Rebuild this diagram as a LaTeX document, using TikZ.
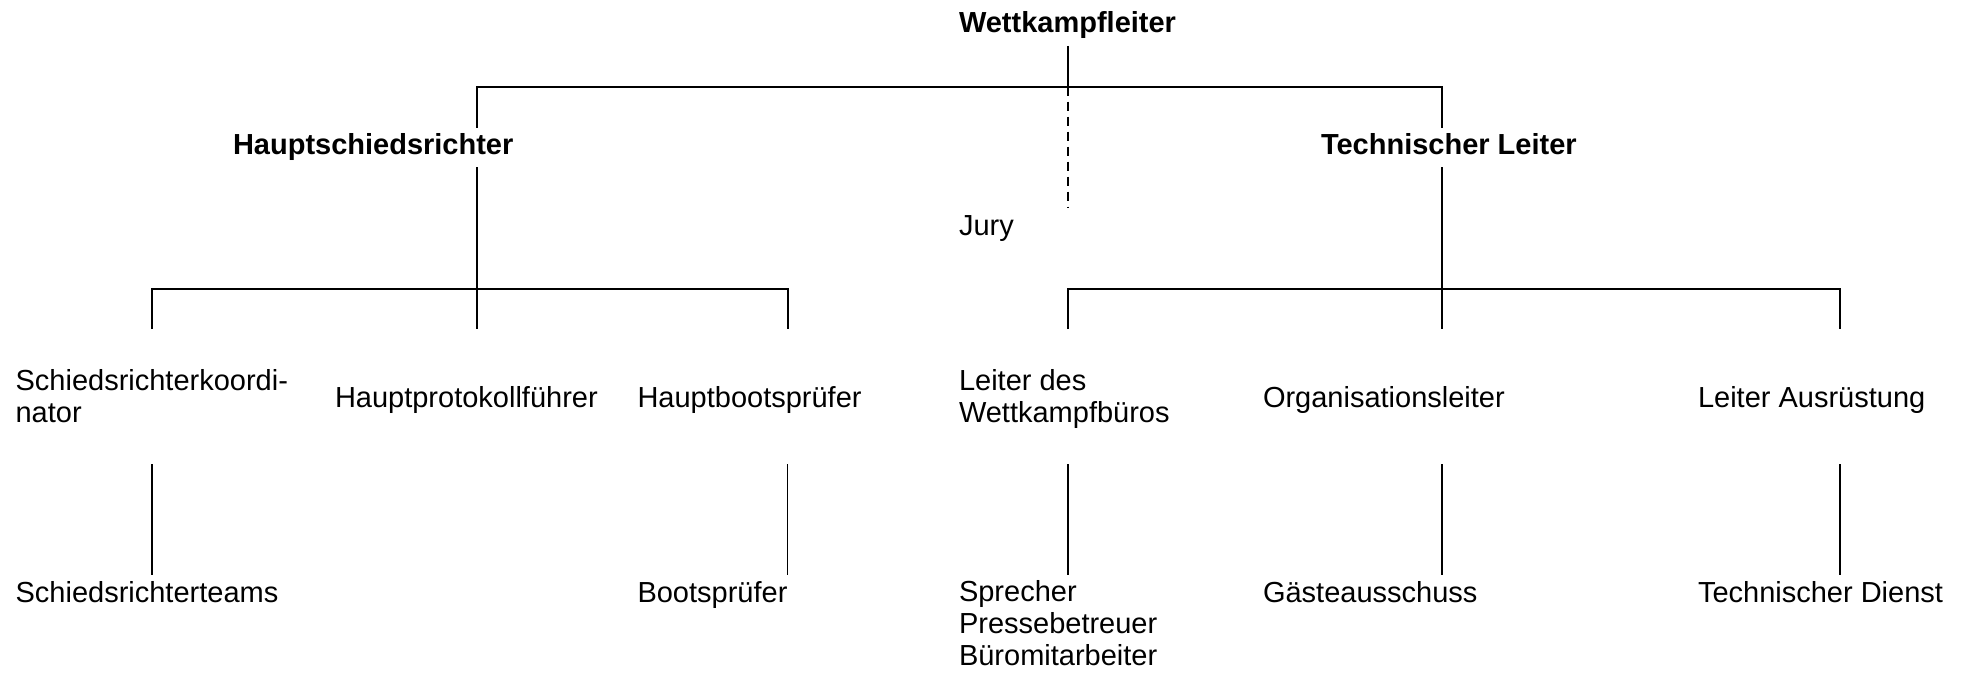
\documentclass[tikz,border=0pt]{standalone}
\usepackage{fontspec}
\setmainfont{Liberation Sans}
\begin{document}
\begin{tikzpicture}[x=0.5pt,y=-0.5pt,
  lbl/.style={anchor=base west,inner sep=0pt,outer sep=0pt,font=\fontsize{14.5}{15.8}\selectfont,align=left},
  blbl/.style={lbl,font=\fontsize{14.5}{15.8}\selectfont\bfseries},
  conn/.style={line width=1pt},
  thin/.style={line width=0.8pt},
  dashconn/.style={line width=0.7pt,dash pattern=on 4.5pt off 3pt}]
\useasboundingbox (0,0) rectangle (1975,674);
% texts (multi-line nodes are anchored at the baseline of their last line)
\node[blbl] (wl) at (959,33) {Wettkampfleiter};
\node[blbl] (hs) at (233,155) {Hauptschiedsrichter};
\node[blbl] (tl) at (1321,155) {Technischer Leiter};
\node[lbl] (jury) at (959,235) {Jury};
\node[lbl] (sk) at (15.6,422) {Schiedsrichterkoordi-\\nator};
\node[lbl] (hp) at (335,407) {Hauptprotokollführer};
\node[lbl] (hb) at (637.5,407) {Hauptbootsprüfer};
\node[lbl] (lw) at (959,422) {Leiter des\\Wettkampfbüros};
\node[lbl] (ol) at (1263,407) {Organisationsleiter};
\node[lbl] (la) at (1698,407) {Leiter Ausrüstung};
\node[lbl] (st) at (15.6,602) {Schiedsrichterteams};
\node[lbl] (bp) at (637.5,602) {Bootsprüfer};
\node[lbl] (sp) at (959,665) {Sprecher\\Pressebetreuer\\Büromitarbeiter};
\node[lbl] (ga) at (1263,602) {Gästeausschuss};
\node[lbl] (td) at (1698,602) {Technischer Dienst};
% junction coordinates
\coordinate (wlb) at (1068,46);
\coordinate (top) at (1068,86.7);
\coordinate (topL) at (476.8,86.7);
\coordinate (topR) at (1442,86.7);
\coordinate (hsT) at (476.8,127.7);
\coordinate (hsB) at (476.8,167);
\coordinate (tlT) at (1442,127.7);
\coordinate (tlB) at (1442,167);
\coordinate (juryT) at (1068,207);
\coordinate (c1) at (152,288.7);
\coordinate (c3) at (787.5,288.7);
\coordinate (c4) at (1068,288.7);
\coordinate (c6) at (1840,288.7);
\coordinate (c1b) at (152,329);
\coordinate (c2b) at (476.8,329);
\coordinate (c3b) at (787.5,329);
\coordinate (c4b) at (1068,329);
\coordinate (c5b) at (1442,329);
\coordinate (c6b) at (1840,329);
\foreach \n/\x in {a/152,b/787.5,c/1068,d/1442,e/1840}{
  \coordinate (u\n) at (\x,464);
  \coordinate (l\n) at (\x,575);
}
% connectors
\draw[conn] (wlb) -- (top);
\draw[conn] (hsT) -- (topL) -- (topR) -- (tlT);
\draw[dashconn] (top) -- (juryT);
\draw[conn] (hsB) -- (c2b);
\draw[conn] (tlB) -- (c5b);
\draw[conn] (c1b) -- (c1) -- (c3) -- (c3b);
\draw[conn] (c4b) -- (c4) -- (c6) -- (c6b);
\foreach \n in {a,b,c,d,e}{
  \draw[thin] (u\n) -- (l\n);
}
\end{tikzpicture}
\end{document}
